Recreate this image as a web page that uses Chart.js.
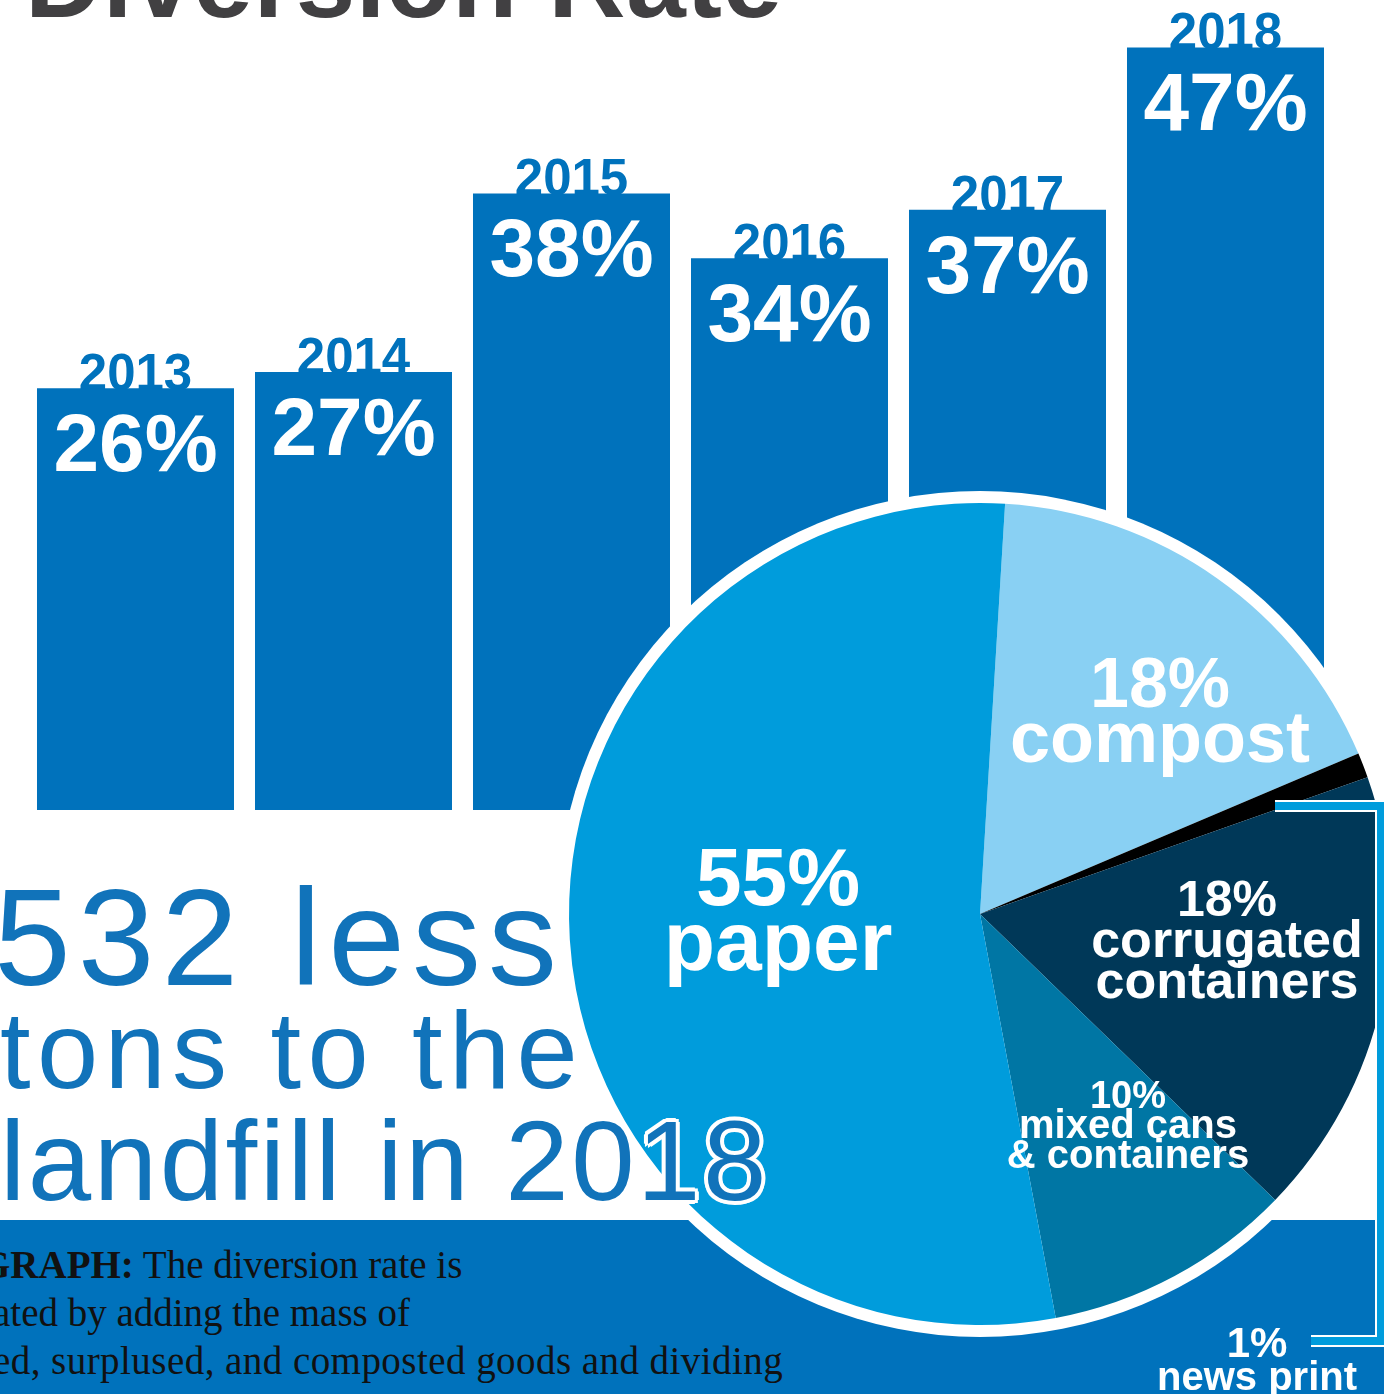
<!DOCTYPE html>
<html>
<head>
<meta charset="utf-8">
<script src="https://cdn.jsdelivr.net/npm/chart.js@4.4.1/dist/chart.umd.min.js"></script>
<style>
  html, body { margin: 0; padding: 0; background: #fff; }
  #page { position: relative; width: 1384px; height: 1394px; overflow: hidden; font-family: "Liberation Sans", Arial, sans-serif; }
  #title { position: absolute; left: 25px; top: -73px; font-size: 107px; line-height: 107px; font-weight: bold; color: #414042; white-space: nowrap; letter-spacing: 0.6px; }
  #barWrap { position: absolute; left: 0; top: 0; }
  #band { position: absolute; left: 0; top: 1220px; width: 1384px; height: 174px; background: #0072bc; }
  .note { position: absolute; font-family: "Liberation Serif", "Times New Roman", serif; font-size: 39px; line-height: 48px; color: #111; white-space: nowrap; }
  #pieWrap { position: absolute; left: 0; top: 0; }
  .big { position: absolute; color: #1173ba; white-space: nowrap;
    text-shadow: -4px 0 #fff, 4px 0 #fff, 0 -4px #fff, 0 4px #fff, -3px -3px #fff, 3px -3px #fff, -3px 3px #fff, 3px 3px #fff; }
</style>
</head>
<body>
<div id="page">
  <div id="title">Diversion Rate</div>
  <div id="barWrap"><canvas id="barChart" width="1384" height="810"></canvas></div>
  <div id="band">
    <div class="note" style="left:-20px; top:21px;"><b>GRAPH:</b> The diversion rate is</div>
    <div class="note" style="left:-7px; top:69px;">ated by adding the mass of</div>
    <div class="note" style="left:-7px; top:117px; letter-spacing:0.45px;">ed, surplused, and composted goods and dividing</div>
  </div>
  <div id="pieWrap"><canvas id="pieChart" width="1500" height="1394"></canvas></div>
  <div class="big" style="left:-6px; top:868px; font-size:138px; line-height:138px; letter-spacing:7px;">532 less</div>
  <div class="big" style="left:0px; top:995px; font-size:110px; line-height:110px; letter-spacing:6.4px;">tons to the</div>
  <div class="big" style="left:0px; top:1104px; font-size:114px; line-height:114px; letter-spacing:2.5px;">landfill in 2018</div>
</div>

<script>
// Diversion rate by year
const years = ['2013', '2014', '2015', '2016', '2017', '2018'];
const diversion = [26, 27, 38, 34, 37, 47];

// 2018 breakdown (pie)
const pieNames = [['compost'], ['news print'], ['corrugated', 'containers'], ['mixed cans', '& containers'], ['paper']];
const pieShares = [18, 1, 18, 10, 55];
const pieColors = ['#89d0f3', '#000000', '#003858', '#0076a4', '#009cdc'];

const FONT = '"Liberation Sans", Arial, sans-serif';

const barLabels = {
  id: 'barLabels',
  beforeDatasetsDraw(chart) {
    const ctx = chart.ctx;
    const meta = chart.getDatasetMeta(0);
    ctx.save();
    ctx.fillStyle = '#0072bc';
    ctx.font = 'bold 51px ' + FONT;
    ctx.textAlign = 'center';
    meta.data.forEach((bar, i) => ctx.fillText(years[i], bar.x, bar.y + 2));
    ctx.restore();
  },
  afterDatasetsDraw(chart) {
    const ctx = chart.ctx;
    const meta = chart.getDatasetMeta(0);
    ctx.save();
    ctx.fillStyle = '#fff';
    ctx.font = 'bold 82px ' + FONT;
    ctx.textAlign = 'center';
    meta.data.forEach((bar, i) => ctx.fillText(diversion[i] + '%', bar.x, bar.y + 83));
    ctx.restore();
  }
};

new Chart(document.getElementById('barChart'), {
  type: 'bar',
  data: {
    labels: years,
    datasets: [{
      data: diversion,
      backgroundColor: '#0072bc',
      borderWidth: 0,
      barPercentage: 0.9037,
      categoryPercentage: 1
    }]
  },
  options: {
    responsive: false,
    animation: false,
    events: [],
    layout: { padding: { left: 26.5, right: 49.5, top: 15, bottom: 0 } },
    scales: {
      x: { display: false },
      y: { display: false, min: 0, max: 49 }
    },
    plugins: { legend: { display: false }, tooltip: { enabled: false } }
  },
  plugins: [barLabels]
});

// label layout: offset from pie centre, font sizes, line offsets
const sliceText = [
  { dx: 180, dy: -207, pct: 70, name: 72, gap: [55] },
  { dx: 277, dy: 443, pct: 42, name: 40, gap: [33] },
  { dx: 247, dy: 2, pct: 50, name: 52, gap: [41, 82] },
  { dx: 148, dy: 194, pct: 38, name: 40, gap: [30, 60] },
  { dx: -202, dy: -9, pct: 82, name: 84, gap: [65] }
];

const pieExtras = {
  id: 'pieExtras',
  beforeDatasetsDraw(chart) {
    const arc = chart.getDatasetMeta(0).data[0];
    const ctx = chart.ctx;
    ctx.save();
    ctx.fillStyle = '#fff';
    ctx.beginPath();
    ctx.arc(arc.x, arc.y, arc.outerRadius + 12, 0, Math.PI * 2);
    ctx.fill();
    ctx.restore();
  },
  afterDatasetsDraw(chart) {
    const arc = chart.getDatasetMeta(0).data[0];
    const cx = arc.x, cy = arc.y;
    const ctx = chart.ctx;
    ctx.save();
    // leader to the news print label
    const pts = [[295, -108], [401, -108], [401, 427], [331, 427]];
    [['#fff', 12], ['#009cdc', 8]].forEach(([col, w]) => {
      ctx.strokeStyle = col;
      ctx.lineWidth = w;
      ctx.lineJoin = 'miter';
      ctx.beginPath();
      pts.forEach(([x, y], k) => k ? ctx.lineTo(cx + x, cy + y) : ctx.moveTo(cx + x, cy + y));
      ctx.stroke();
    });
    ctx.fillStyle = '#fff';
    ctx.textAlign = 'center';
    sliceText.forEach((t, i) => {
      const x = cx + t.dx, y = cy + t.dy;
      ctx.font = 'bold ' + t.pct + 'px ' + FONT;
      ctx.fillText(pieShares[i] + '%', x, y);
      ctx.font = 'bold ' + t.name + 'px ' + FONT;
      pieNames[i].forEach((line, j) => ctx.fillText(line, x, y + t.gap[j]));
    });
    ctx.restore();
  }
};

new Chart(document.getElementById('pieChart'), {
  type: 'pie',
  data: {
    labels: pieNames.map(n => n.join(' ')),
    datasets: [{
      data: pieShares,
      backgroundColor: pieColors,
      borderWidth: 0,
      hoverOffset: 0
    }]
  },
  options: {
    responsive: false,
    animation: false,
    events: [],
    rotation: 3.5,
    radius: 411,
    layout: { padding: { left: 560, right: 100, top: 494, bottom: 60 } },
    plugins: { legend: { display: false }, tooltip: { enabled: false } }
  },
  plugins: [pieExtras]
});
</script>
</body>
</html>
